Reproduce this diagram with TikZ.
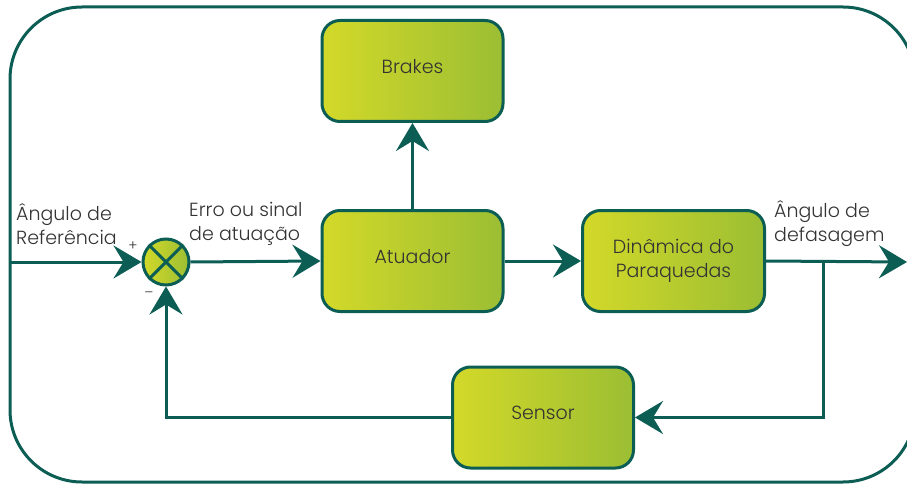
\documentclass[tikz,border=0pt]{standalone}
\usepackage{fontspec}
\setmainfont{Poppins Light}
\usetikzlibrary{arrows.meta}
\definecolor{dkteal}{HTML}{0C5E54}
\definecolor{gleft}{HTML}{D3D929}
\definecolor{gright}{HTML}{9BBE33}
\definecolor{txt}{HTML}{333333}
\tikzset{
  line/.style={draw=dkteal, line width=3pt},
  arr/.style={line, -{Stealth[length=28pt,width=33pt,inset=10pt]}},
  block/.style={draw=dkteal, line width=3pt, rounded corners=18pt,
    left color=gleft, right color=gright, text=txt,
    minimum width=181pt, minimum height=101pt, inner sep=0pt,
    font=\fontsize{19}{24.5}\selectfont, align=center},
  lbl/.style={text=txt, font=\fontsize{19}{24}\selectfont, align=left, inner sep=0pt},
  sign/.style={text=txt, font=\fontsize{14}{14}\selectfont, inner sep=0pt}
}
\begin{document}
\begin{tikzpicture}[x=1pt,y=-1pt]
\useasboundingbox (0,0) rectangle (907,484);
\begin{scope}
\clip (0,0) rectangle (907,484);
\draw[line, rounded corners=72pt] (10,7) rectangle (915,482);
\end{scope}
% blocks
\node[block] (brakes) at (412.5,71) {\raisebox{10pt}{Brakes}};
\node[block] (atuador) at (412.5,261) {\raisebox{10pt}{Atuador}};
\node[block, minimum width=182pt] (din) at (673.5,261) {Dinâmica do\\Paraquedas};
\node[block] (sensor) at (543,417.5) {\raisebox{10pt}{Sensor}};
% summing junction
\node[circle, draw=dkteal, line width=3pt, minimum size=46pt, inner sep=0pt,
  left color=gleft, right color=gright] (sum) at (166,262) {};
\draw[line] (sum.north east) -- (sum.south west);
\draw[line] (sum.north west) -- (sum.south east);
% coordinates
\coordinate (in) at (10,262);
\coordinate (out) at (907,262);
\coordinate (branch) at (823,262);
% connectors
\draw[arr] (in) -- (sum.west);
\draw[arr] (sum.east) -- (atuador.west);
\draw[arr] (atuador.north) -- (brakes.south);
\draw[arr] (atuador.east) -- (din.west);
\draw[arr] (din.east) -- (out);
\draw[arr] (branch) |- (sensor.east);
\draw[arr] (sensor.west) -| (sum.south);
% labels
\node[lbl, anchor=west] (lref) at (16,224) {Ângulo de\\Referência};
\node[lbl, anchor=west] (lerr) at (189,224) {Erro ou sinal\\de atuação};
\node[lbl, anchor=west] (ldef) at (774,224) {Ângulo de\\defasagem};
\node[sign] (plus) at (133,246) {+};
\node[sign] (minus) at (149,295) {–};
\end{tikzpicture}
\end{document}
